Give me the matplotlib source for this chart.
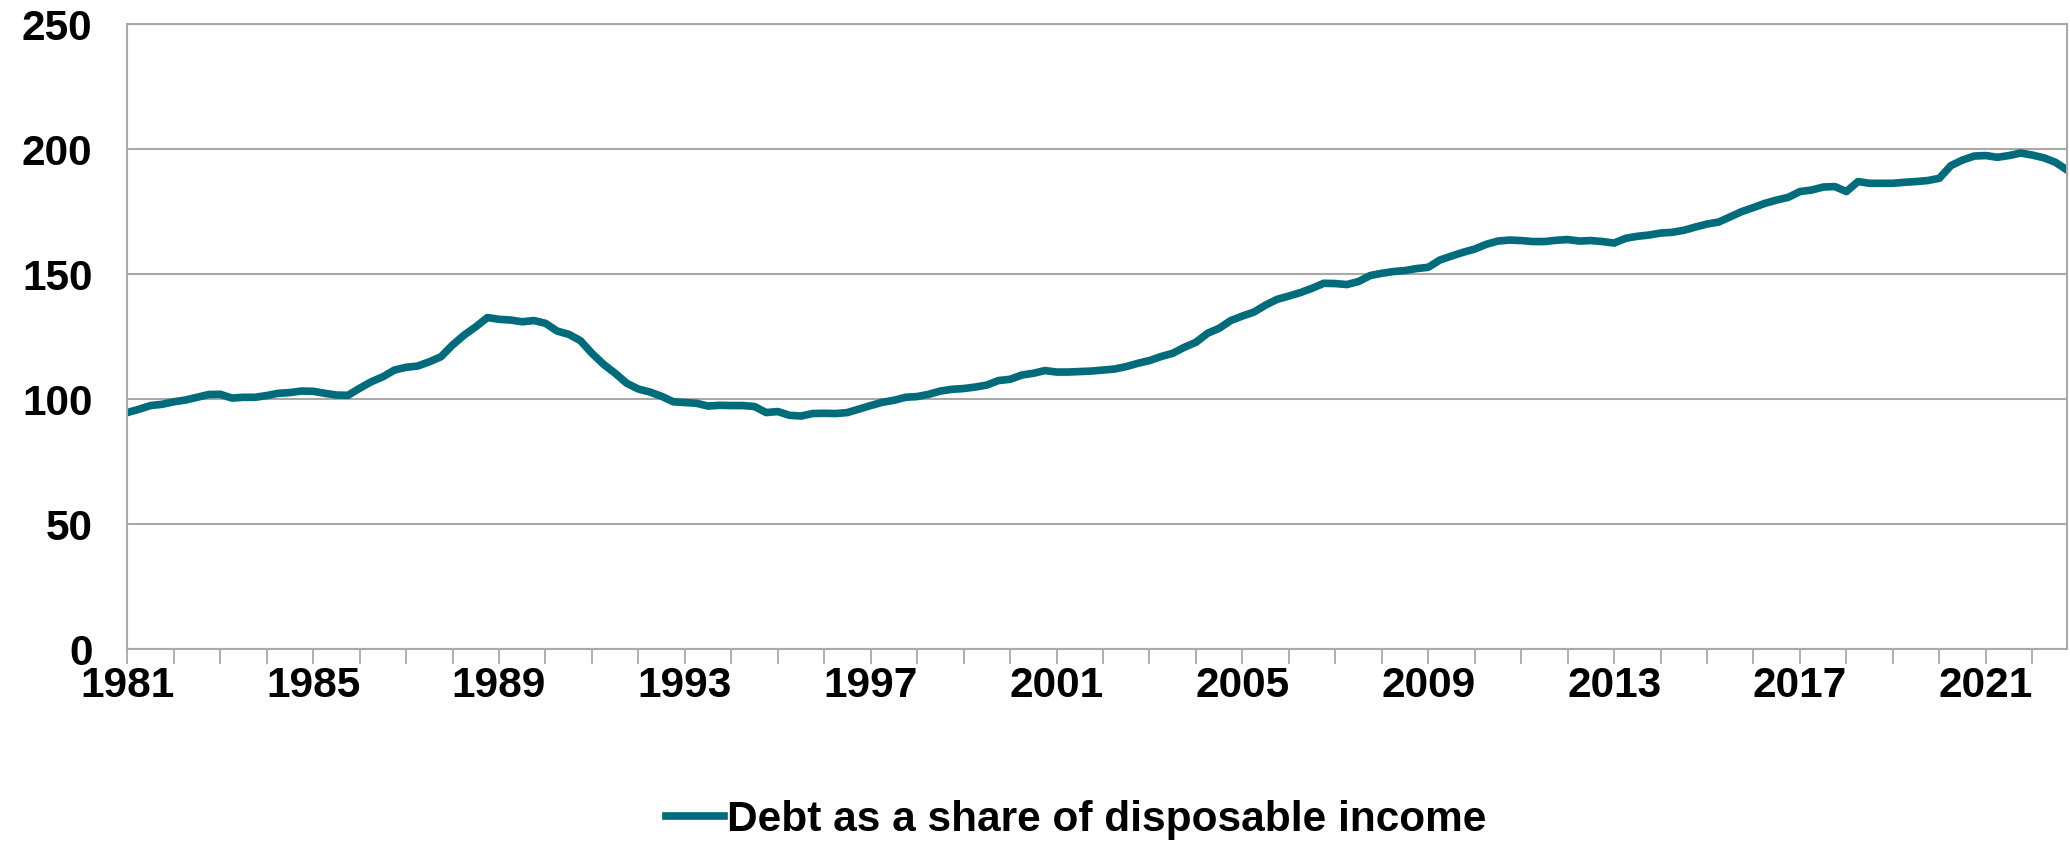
import matplotlib.pyplot as plt
from matplotlib.ticker import FixedLocator, NullFormatter


# Household debt as a share of disposable income, quarterly 1981Q1 - 2022Q4
years = list(range(1981, 2023))
quarters = [f"{y}Q{q}" for y in years for q in range(1, 5)]

debt_ratio = [
    94.7, 96.0, 97.5, 98.0, 99.0, 99.7, 100.8, 101.9,          # 1981-82
    102.0, 100.5, 100.8, 100.8, 101.5, 102.4, 102.7, 103.3,    # 1983-84
    103.2, 102.4, 101.7, 101.6, 104.4, 107.0, 109.0, 111.7,    # 1985-86
    112.8, 113.3, 115.0, 117.0, 121.7, 125.7, 129.0, 132.7,    # 1987-88
    132.0, 131.7, 131.0, 131.5, 130.4, 127.3, 126.0, 123.5,    # 1989-90
    118.4, 114.0, 110.4, 106.4, 104.1, 102.9, 101.2, 99.0,     # 1991-92
    98.7, 98.4, 97.3, 97.6, 97.5, 97.5, 97.1, 94.7,            # 1993-94
    95.1, 93.6, 93.3, 94.3, 94.4, 94.3, 94.7, 96.1,            # 1995-96
    97.5, 98.8, 99.6, 100.8, 101.1, 102.0, 103.3, 104.0,       # 1997-98
    104.3, 104.9, 105.7, 107.5, 108.0, 109.7, 110.4, 111.5,    # 1999-2000
    110.9, 110.9, 111.1, 111.3, 111.7, 112.1, 113.1, 114.4,    # 2001-02
    115.5, 117.1, 118.4, 120.8, 122.8, 126.4, 128.4, 131.5,    # 2003-04
    133.3, 134.9, 137.7, 140.0, 141.3, 142.7, 144.4, 146.4,    # 2005-06
    146.3, 145.9, 147.1, 149.5, 150.4, 151.1, 151.5, 152.3,    # 2007-08
    152.8, 155.7, 157.3, 158.8, 160.1, 162.0, 163.3, 163.7,    # 2009-10
    163.5, 163.1, 163.1, 163.6, 163.9, 163.3, 163.5, 163.1,    # 2011-12
    162.5, 164.4, 165.2, 165.7, 166.5, 166.8, 167.6, 168.9,    # 2013-14
    170.1, 170.9, 173.0, 175.1, 176.7, 178.4, 179.7, 180.8,    # 2015-16
    183.1, 183.7, 184.9, 185.1, 183.1, 187.1, 186.4, 186.4,    # 2017-18
    186.4, 186.8, 187.1, 187.5, 188.4, 193.5, 195.7, 197.3,    # 2019-20
    197.5, 196.8, 197.5, 198.5, 197.7, 196.6, 194.8, 191.7,    # 2021-22
]

year_labels = [str(y) for y in range(1981, 2023, 4)]
y_ticks = [0, 50, 100, 150, 200, 250]

LINE_COLOR = "#006B7B"
GRID_COLOR = "#A9A9A9"
FONT = ["Liberation Sans", "DejaVu Sans"]
FONT_SIZE = 30.5


def main():
    plt.rcParams["font.family"] = FONT
    plt.rcParams["font.weight"] = "bold"

    fig = plt.figure(figsize=(20.7, 8.44), dpi=100)
    ax = fig.add_axes([0.0615, 0.2307, 0.9371, 0.7405])

    x = list(range(len(quarters)))
    ax.plot(
        x,
        debt_ratio,
        color=LINE_COLOR,
        linewidth=5.5,
        solid_joinstyle="round",
        label="Debt as a share of disposable income",
    )

    ax.set_xlim(0, len(quarters) - 1)
    ax.set_ylim(0, 250)

    # labels every fourth year, a tick mark for every year
    ax.xaxis.set_major_locator(FixedLocator([4 * years.index(int(s)) for s in year_labels]))
    ax.set_xticklabels(year_labels)
    ax.xaxis.set_minor_locator(FixedLocator(list(range(0, len(quarters), 4))))
    ax.xaxis.set_minor_formatter(NullFormatter())

    ax.set_yticks(y_ticks)
    ax.yaxis.grid(True, color=GRID_COLOR, linewidth=1.5)
    ax.set_axisbelow(True)

    for spine in ax.spines.values():
        spine.set_color(GRID_COLOR)
        spine.set_linewidth(1.5)

    ax.tick_params(axis="x", which="both", direction="out", length=11,
                   width=1.3, color=GRID_COLOR, pad=1, labelsize=FONT_SIZE)
    ax.tick_params(axis="y", length=0, pad=25, labelsize=FONT_SIZE)
    for lbl in ax.get_xticklabels() + ax.get_yticklabels():
        lbl.set_fontweight("bold")

    fig.legend(
        loc="center",
        bbox_to_anchor=(0.5198, 0.0284),
        frameon=False,
        prop={"size": FONT_SIZE, "weight": "bold", "family": FONT},
        handlelength=1.38,
        handletextpad=0.07,
    )

    fig.savefig("out.png", dpi=100)
    plt.close(fig)


if __name__ == "__main__":
    main()
